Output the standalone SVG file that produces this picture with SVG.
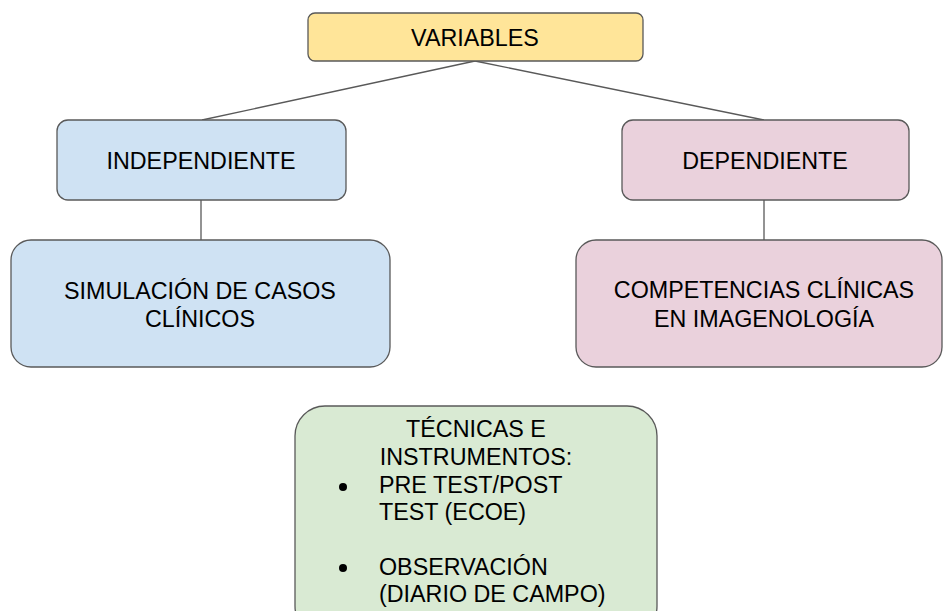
<svg xmlns="http://www.w3.org/2000/svg" width="943" height="611" viewBox="0 0 943 611">
<style>
.box{stroke:#595959;stroke-width:1.3}
.t{font-family:"Liberation Sans",Arial,sans-serif;font-size:23.3px;fill:#000;text-anchor:middle}
.l{font-family:"Liberation Sans",Arial,sans-serif;font-size:23.3px;fill:#000}
.c{stroke:#595959;stroke-width:1.3;fill:none}
</style>
<rect width="943" height="611" fill="#fff"/>
<g id="connectors">
<line class="c" x1="475" y1="61" x2="202" y2="120"/>
<line class="c" x1="475" y1="61" x2="764" y2="120"/>
<line class="c" x1="201" y1="200" x2="201" y2="240"/>
<line class="c" x1="764" y1="200" x2="764" y2="240"/>
</g>
<g id="variables">
<rect class="box" x="308" y="13" width="335" height="48" rx="7" fill="#ffe599"/>
<text class="t" x="475" y="46">VARIABLES</text>
</g>
<g id="independiente">
<rect class="box" x="57" y="120" width="289" height="80" rx="11" fill="#cfe2f3"/>
<text class="t" x="201" y="169">INDEPENDIENTE</text>
</g>
<g id="dependiente">
<rect class="box" x="622" y="120" width="287" height="80" rx="11" fill="#ead1dc"/>
<text class="t" x="765" y="169">DEPENDIENTE</text>
</g>
<g id="simulacion">
<rect class="box" x="11" y="240" width="379" height="127" rx="20" fill="#cfe2f3"/>
<text class="t" x="200" y="299">SIMULACIÓN DE CASOS</text>
<text class="t" x="200" y="327">CLÍNICOS</text>
</g>
<g id="competencias">
<rect class="box" x="576" y="240" width="366" height="127" rx="20" fill="#ead1dc"/>
<text class="t" x="764" y="298">COMPETENCIAS CLÍNICAS</text>
<text class="t" x="764" y="327">EN IMAGENOLOGÍA</text>
</g>
<g id="tecnicas">
<rect class="box" x="295" y="406" width="362" height="230" rx="30" fill="#d9ead3"/>
<text class="t" x="476" y="437">TÉCNICAS E</text>
<text class="t" x="476" y="465">INSTRUMENTOS:</text>
<circle cx="343" cy="487" r="4" fill="#000"/>
<text class="l" x="379" y="493">PRE TEST/POST</text>
<text class="l" x="379" y="520">TEST (ECOE)</text>
<circle cx="343" cy="568" r="4" fill="#000"/>
<text class="l" x="379" y="575">OBSERVACIÓN</text>
<text class="l" x="379" y="602">(DIARIO DE CAMPO)</text>
</g>
</svg>
